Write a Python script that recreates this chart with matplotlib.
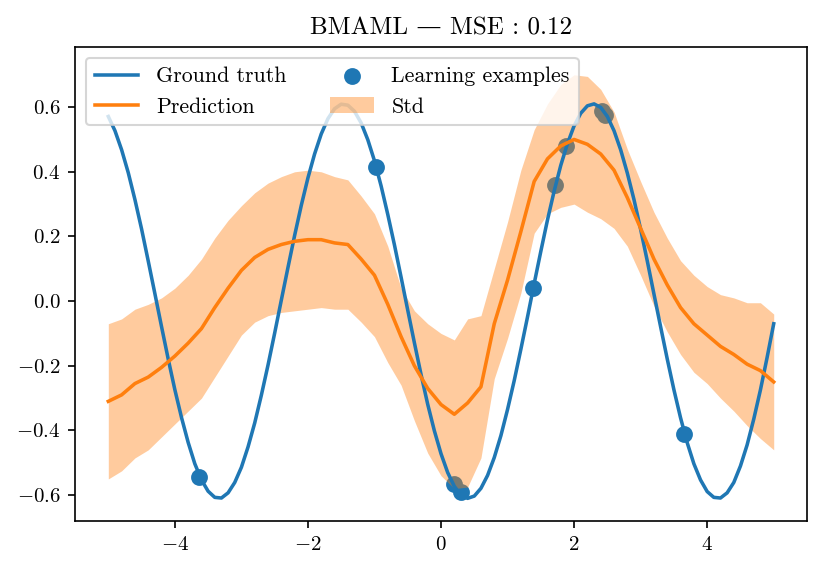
import numpy as np
import matplotlib
matplotlib.use("Agg")
import matplotlib.pyplot as plt

plt.rcParams["font.family"] = ["cmr10", "DejaVu Serif"]
plt.rcParams["mathtext.fontset"] = "cm"
plt.rcParams["axes.formatter.use_mathtext"] = True
plt.rcParams["font.size"] = 10

# ground truth on a 0.1 grid from -5 to 5
x_gt = np.linspace(-5, 5, 101)
ground_truth = [0.571, 0.527, 0.468, 0.397, 0.314, 0.223, 0.124, 0.023, -0.079, -0.179,
                -0.274, -0.360, -0.437, -0.503, -0.553, -0.588, -0.607, -0.609, -0.593, -0.561,
                -0.514, -0.451, -0.377, -0.291, -0.198, -0.099, 0.003, 0.104, 0.203, 0.296,
                0.381, 0.455, 0.517, 0.564, 0.595, 0.609, 0.606, 0.587, 0.551, 0.499,
                0.434, 0.356, 0.268, 0.174, 0.074, -0.028, -0.129, -0.227, -0.319, -0.401,
                -0.472, -0.530, -0.573, -0.600, -0.610, -0.603, -0.579, -0.539, -0.484, -0.416,
                -0.335, -0.246, -0.149, -0.049, 0.054, 0.154, 0.251, 0.340, 0.420, 0.487,
                0.542, 0.581, 0.604, 0.610, 0.599, 0.571, 0.527, 0.468, 0.396, 0.314,
                0.222, 0.124, 0.022, -0.079, -0.179, -0.274, -0.361, -0.438, -0.503, -0.553,
                -0.589, -0.607, -0.609, -0.593, -0.561, -0.510, -0.445, -0.365, -0.275, -0.175,
                -0.070]

# prediction mean and std, on a 0.2 grid
x = np.linspace(-5, 5, 51)
prediction = [-0.31, -0.29, -0.255, -0.235, -0.205, -0.17, -0.13, -0.085, -0.02, 0.04,
              0.095, 0.135, 0.16, 0.175, 0.185, 0.19, 0.19, 0.18, 0.175, 0.13,
              0.08, -0.01, -0.11, -0.2, -0.27, -0.32, -0.35, -0.315, -0.265, -0.07,
              0.065, 0.215, 0.37, 0.44, 0.48, 0.5, 0.485, 0.455, 0.405, 0.32,
              0.225, 0.13, 0.05, -0.02, -0.07, -0.105, -0.14, -0.165, -0.195, -0.215,
              -0.25]
std = [0.24, 0.235, 0.23, 0.225, 0.215, 0.21, 0.21, 0.215, 0.215, 0.21,
       0.2, 0.2, 0.205, 0.21, 0.215, 0.215, 0.21, 0.205, 0.2, 0.195,
       0.19, 0.18, 0.15, 0.17, 0.2, 0.22, 0.23, 0.26, 0.22, 0.17,
       0.18, 0.19, 0.16, 0.17, 0.19, 0.2, 0.21, 0.2, 0.18, 0.15,
       0.145, 0.145, 0.145, 0.145, 0.15, 0.15, 0.16, 0.175, 0.19, 0.21,
       0.21]

# learning examples
ex_x = [-3.63, -0.98, 0.19, 0.30, 1.38, 1.71, 1.88, 2.42, 2.47, 3.65]
ex_y = [-0.545, 0.415, -0.565, -0.59, 0.042, 0.36, 0.48, 0.587, 0.575, -0.41]

pred = np.array(prediction)
sd = np.array(std)

fig, ax = plt.subplots(figsize=(831 / 150, 573 / 150), dpi=150)
fig.subplots_adjust(left=0.0903, right=0.9711, top=0.918, bottom=0.0908)

sc = ax.scatter(ex_x, ex_y, s=50, color="C0", label="Learning examples")
fb = ax.fill_between(x, pred - sd, pred + sd, color="C1", alpha=0.4, lw=0, label="Std")
gt, = ax.plot(x_gt, ground_truth, color="C0", lw=1.7, label="Ground truth")
pr, = ax.plot(x, pred, color="C1", lw=1.7, label="Prediction")

ax.set_xlim(-5.5, 5.5)
ax.set_ylim(-0.68, 0.786)
ax.set_xticks([-4, -2, 0, 2, 4])
ax.set_yticks([-0.6, -0.4, -0.2, 0.0, 0.2, 0.4, 0.6])
ax.set_title("BMAML — MSE : 0.12", fontsize=12)
ax.legend(handles=[gt, pr, sc, fb], loc="upper left", ncol=2, fontsize=10.5)

fig.savefig("out.png", dpi=150)
